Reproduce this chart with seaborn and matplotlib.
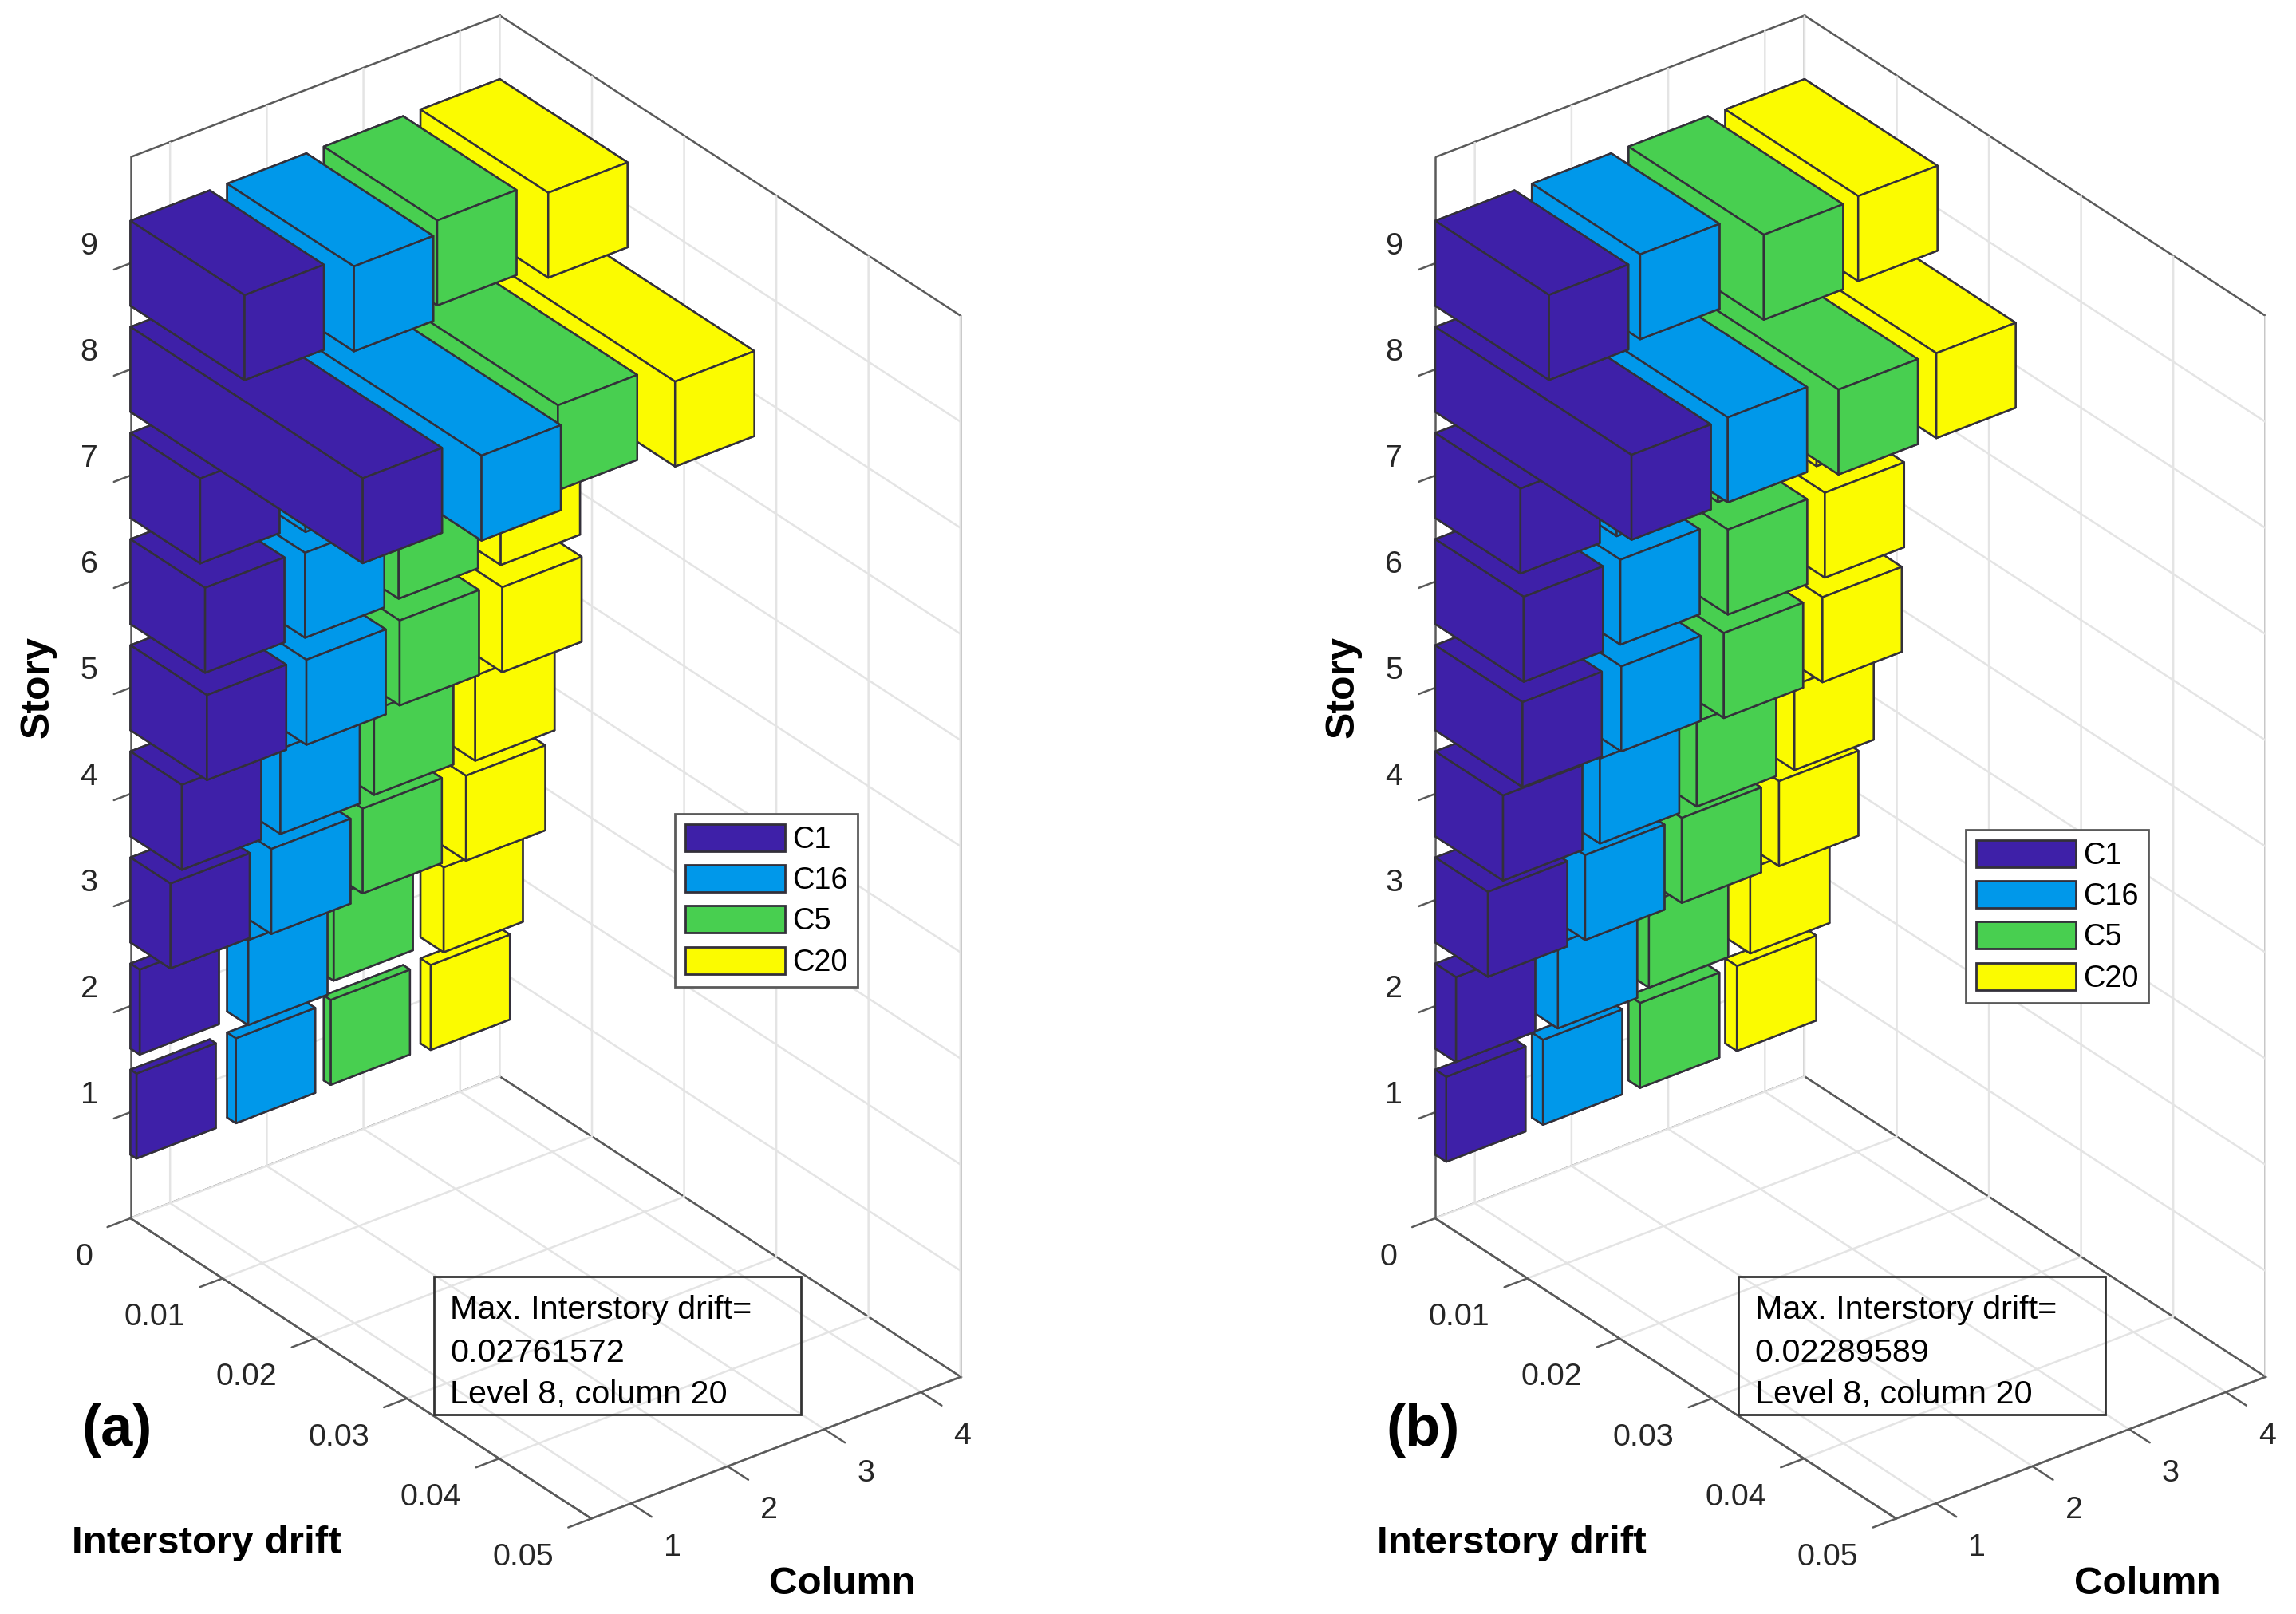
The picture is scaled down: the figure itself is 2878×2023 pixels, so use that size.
import matplotlib
matplotlib.use('Agg')
import matplotlib.pyplot as plt
from matplotlib.patches import Patch, Rectangle
from mpl_toolkits.mplot3d import proj3d
import seaborn as sns

W, H = 2878, 2023

stories = [1, 2, 3, 4, 5, 6, 7, 8, 9]
columns = [1, 2, 3, 4]
names = ['C1', 'C16', 'C5', 'C20']

# drift per story
a_c1 = [0.00065, 0.0010, 0.00433, 0.00558, 0.0083, 0.0081, 0.00757, 0.0252, 0.01238]
a_c16 = [0.00095, 0.00228, 0.00478, 0.00578, 0.0086, 0.00845, 0.0085, 0.0276, 0.01376]
a_c5 = [0.00074, 0.00106, 0.0042, 0.00545, 0.00823, 0.00812, 0.0082, 0.0254, 0.0123]
a_c20 = [0.0011, 0.0025, 0.00493, 0.00594, 0.00887, 0.0087, 0.0087, 0.02762, 0.01386]

b_c1 = [0.00119, 0.00225, 0.00572, 0.00736, 0.00947, 0.0096, 0.00925, 0.0213, 0.01235]
b_c16 = [0.0012, 0.00282, 0.00578, 0.00738, 0.0097, 0.0096, 0.0092, 0.02125, 0.01175]
b_c5 = [0.00124, 0.0022, 0.00577, 0.0074, 0.01033, 0.01077, 0.0097, 0.02278, 0.01467]
b_c20 = [0.00126, 0.0027, 0.00583, 0.0075, 0.01054, 0.0108, 0.0099, 0.0229, 0.01442]

x_ticks = [0, 0.01, 0.02, 0.03, 0.04, 0.05]
x_labels = ['0', '0.01', '0.02', '0.03', '0.04', '0.05']
note_a = ['Max. Interstory drift=', '0.02761572', 'Level 8, column 20']
note_b = ['Max. Interstory drift=', '0.02289589', 'Level 8, column 20']

xlim = (0, 0.05)
ylim = (0.59, 4.41)
zlim = (0, 10)
edge = '#33303a'
frame = '#5a5a5a'
tick_size = 14.2


def fig_text(x, y, s, **kwargs):
    fig.text(x / W, 1 - y / H, s, **kwargs)


def place_axes(ax, px, py, height):
    # put the drift=0 / first column floor corner on pixel (px, py)
    M = ax.get_proj()
    p0 = proj3d.proj_transform(xlim[0], ylim[0], zlim[0], M)[:2]
    p1 = proj3d.proj_transform(xlim[0], ylim[0], zlim[1], M)[:2]
    f0 = ax.transLimits.transform(p0)
    f1 = ax.transLimits.transform(p1)
    side = height / (f1[1] - f0[1])
    left = px - f0[0] * side
    bottom = H - py - f0[1] * side
    ax.set_position([left / W, bottom / H, side / W, side / H])


def tick_text(ax, x, y, z, s, ha='center'):
    # tick labels sit along one floor direction only, the axis own labels can't do that
    px, py, _ = proj3d.proj_transform(x, y, z, ax.get_proj())
    ax.text2D(px, py, s, transform=ax.transData, fontsize=tick_size, color='#262626', ha=ha, va='center')


def draw_panel(rect_x, series, note, tag, leg_xy):
    ax = fig.add_subplot(projection='3d', computed_zorder=False)
    ax.patch.set_alpha(0)
    ax.set_proj_type('ortho')
    ax.view_init(elev=30, azim=-37.5)

    zz = 1.0
    for col, vals, color in reversed(list(zip(columns, series, palette))):
        for story, val in zip(stories, vals):
            ax.bar3d(0, col - 0.41, story - 0.4, val, 0.82, 0.8, color=color, edgecolor=edge,
                     linewidth=0.9, shade=False, zorder=zz)
            zz += 0.01

    ax.set_xlim(*xlim, view_margin=0)
    ax.set_ylim(*ylim, view_margin=0)
    ax.set_zlim(*zlim, view_margin=0)
    ax.set_box_aspect((949, 583.6, 1535.8))

    ax.set_xticks(x_ticks)
    ax.set_yticks(columns)
    ax.set_zticks(stories)
    ax.set_xticklabels([])
    ax.set_yticklabels([])
    ax.set_zticklabels([])
    ax.zaxis.set_ticks_position('lower')
    ax.grid(True)

    for val, lab in zip(x_ticks, x_labels):
        tick_text(ax, val, ylim[0] - 0.39, -0.23, lab, ha='right')
    for col in columns:
        tick_text(ax, xlim[1] + 0.0045, col, -0.16, str(col))
    for story in stories:
        tick_text(ax, -0.0045, ylim[0], story - 0.1, str(story))

    factors = {'x': 0.78, 'y': 0.56, 'z': 0.56}
    for name, axis in zip('xyz', (ax.xaxis, ax.yaxis, ax.zaxis)):
        axis.set_pane_color((1, 1, 1, 1))
        axis.pane.set_edgecolor(frame)
        axis.pane.set_linewidth(0.9)
        axis._axinfo['tick']['inward_factor'] = factors[name]
        axis._axinfo['tick']['outward_factor'] = 0

    place_axes(ax, rect_x, 1527, 1330)

    handles = [Patch(facecolor=c, edgecolor=edge, label=n) for c, n in zip(palette, names)]
    ax.legend(handles=handles, loc='upper left', bbox_to_anchor=(leg_xy[0] / W, 1 - leg_xy[1] / H),
              bbox_transform=fig.transFigure, fontsize=13.7, handlelength=3.3, handleheight=1.0,
              labelspacing=0.35, handletextpad=0.24, borderpad=0.33, borderaxespad=0, fancybox=False,
              framealpha=1, edgecolor=frame)

    # note box, grid lines show through it
    dx = rect_x - 163.5
    fig.add_artist(Rectangle(((543.5 + dx) / W, 1 - 1773 / H), 460 / W, 173.5 / H, facecolor='none',
                             edgecolor='#333333', linewidth=1.0, transform=fig.transFigure))
    for line, y in zip(note, (1653, 1707, 1759)):
        fig_text(564 + dx, y, line, fontsize=14.9, va='baseline')

    fig_text(102 + dx, 1812, tag, fontsize=26, fontweight='bold', va='baseline')
    fig_text(90.5 + dx, 1947, 'Interstory drift', fontsize=17.8, fontweight='bold', va='baseline')
    fig_text(1056 + dx, 1998, 'Column', fontsize=17.8, fontweight='bold', ha='center', va='baseline')
    fig_text(48 + dx, 861, 'Story', fontsize=18, fontweight='bold', rotation=90, ha='center', va='center')


sns.set_theme(style='white', rc={
    'grid.color': '#e4e4e4', 'grid.linewidth': 0.9, 'axes.edgecolor': frame, 'axes.linewidth': 0.9,
    'xtick.color': frame, 'ytick.color': frame, 'xtick.major.width': 0.9, 'ytick.major.width': 0.9,
    'text.color': 'black',
})
plt.rcParams['font.family'] = ['Liberation Sans', 'DejaVu Sans']
palette = sns.color_palette(['#3e20a8', '#0098ea', '#48cf50', '#fbfb00'])

fig = plt.figure(figsize=(W / 200, H / 200), dpi=200)

draw_panel(163.5, [a_c1, a_c16, a_c5, a_c20], note_a, '(a)', (846, 1020))
draw_panel(1799, [b_c1, b_c16, b_c5, b_c20], note_b, '(b)', (2464, 1040))

fig.savefig('out.png', dpi=200)
